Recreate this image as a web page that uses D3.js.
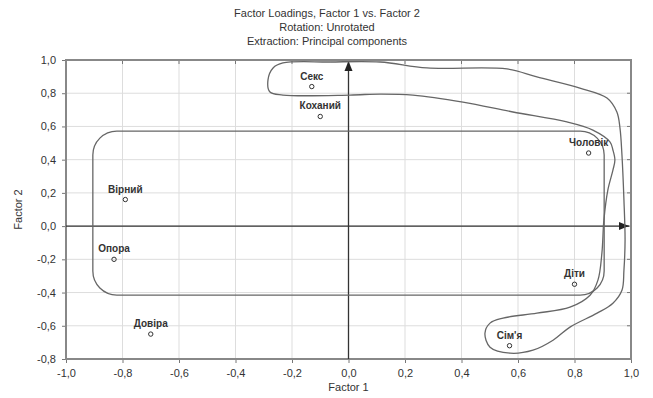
<!DOCTYPE html>
<html>
<head>
<meta charset="UTF-8">
<script src="https://d3js.org/d3.v7.min.js"></script>
<style>
  body { margin: 0; background: #fff; }
  svg { font-family: "Liberation Sans", Arial, sans-serif; }
  .tick text { fill: #333; font-size: 11px; }
  .grid line { stroke: #ddd; stroke-width: 1; }
  .lbl { font-size: 10px; fill: #333; text-anchor: middle; font-weight: bold; }
</style>
</head>
<body>
<svg id="chart" width="653" height="398"></svg>
<script>
// Дані: навантаження факторів
const names = ["Секс", "Коханий", "Чоловік", "Вірний", "Опора", "Діти", "Довіра", "Сім'я"];
const factor1 = [-0.13, -0.10, 0.85, -0.79, -0.83, 0.80, -0.70, 0.57];
const factor2 = [0.84, 0.66, 0.44, 0.16, -0.20, -0.35, -0.65, -0.72];
const xTicks = [-1.0, -0.8, -0.6, -0.4, -0.2, 0.0, 0.2, 0.4, 0.6, 0.8, 1.0];
const yTicks = [-0.8, -0.6, -0.4, -0.2, 0.0, 0.2, 0.4, 0.6, 0.8, 1.0];

// Рамка навколо групи (в одиницях факторів)
const boxX = [-0.905, 0.905];
const boxY = [-0.415, 0.572];

// Контур навколо другої групи
const blobX = [-0.232, -0.065, 0.112, 0.278, 0.561, 0.667, 0.819, 0.915, 0.950, 0.961, 0.968, 0.975, 0.979, 0.975, 0.968, 0.936, 0.880, 0.784, 0.724, 0.653, 0.572, 0.501, 0.483, 0.501, 0.547, 0.667, 0.784, 0.855, 0.883, 0.897, 0.904, 0.918, 0.936, 0.943, 0.936, 0.926, 0.865, 0.773, 0.582, 0.405, 0.228, 0.112, 0.005, -0.232, -0.278, -0.285, -0.267];
const blobY = [0.982, 0.988, 0.988, 0.952, 0.946, 0.898, 0.831, 0.771, 0.687, 0.590, 0.428, 0.157, -0.084, -0.265, -0.386, -0.464, -0.524, -0.608, -0.687, -0.747, -0.765, -0.729, -0.645, -0.584, -0.554, -0.524, -0.488, -0.416, -0.325, -0.163, 0.036, 0.217, 0.337, 0.398, 0.458, 0.506, 0.578, 0.627, 0.687, 0.747, 0.789, 0.795, 0.789, 0.789, 0.807, 0.880, 0.952];

const fmt = d => d3.format(".1f")(d).replace(".", ",").replace("−", "-");

const svg = d3.select("#chart");
const m = { left: 66, right: 22, top: 60, bottom: 39 };
const W = 653, H = 398;

const x = d3.scaleLinear().domain([-1, 1]).range([m.left, W - m.right]);
const y = d3.scaleLinear().domain([-0.8, 1]).range([H - m.bottom, m.top]);

// Заголовки
const titles = ["Factor Loadings, Factor 1 vs. Factor 2", "Rotation: Unrotated", "Extraction: Principal components"];
svg.selectAll(".title").data(titles).enter().append("text")
  .attr("x", 327).attr("y", (d, i) => 17 + i * 14)
  .attr("text-anchor", "middle").attr("font-size", 11).attr("fill", "#333")
  .text(d => d);

// Сітка
svg.append("g").attr("class", "grid").selectAll("line").data(xTicks).enter().append("line")
  .attr("x1", d => x(d)).attr("x2", d => x(d)).attr("y1", y(1)).attr("y2", y(-0.8));
svg.append("g").attr("class", "grid").selectAll("line").data(yTicks).enter().append("line")
  .attr("y1", d => y(d)).attr("y2", d => y(d)).attr("x1", x(-1)).attr("x2", x(1));

// Осі
svg.append("g").attr("transform", `translate(0,${y(-0.8)})`)
  .call(d3.axisBottom(x).tickValues(xTicks).tickFormat(fmt).tickSize(4).tickPadding(6))
  .call(g => g.select(".domain").remove())
  .call(g => g.selectAll(".tick line").attr("stroke", "#777"));
svg.append("g").attr("transform", `translate(${x(-1)},0)`)
  .call(d3.axisLeft(y).tickValues(yTicks).tickFormat(fmt).tickSize(4).tickPadding(6))
  .call(g => g.select(".domain").remove())
  .call(g => g.selectAll(".tick line").attr("stroke", "#777"));
// Засічки на верхній і правій сторонах
svg.append("g").selectAll("line").data(xTicks).enter().append("line")
  .attr("x1", d => x(d)).attr("x2", d => x(d)).attr("y1", y(1)).attr("y2", y(1) + 4).attr("stroke", "#777");
svg.append("g").selectAll("line").data(yTicks).enter().append("line")
  .attr("y1", d => y(d)).attr("y2", d => y(d)).attr("x1", x(1)).attr("x2", x(1) - 4).attr("stroke", "#777");

// Рамка графіка
svg.append("rect").attr("x", x(-1)).attr("y", y(1))
  .attr("width", x(1) - x(-1)).attr("height", y(-0.8) - y(1))
  .attr("fill", "none").attr("stroke", "#888").attr("stroke-width", 2);

// Стрілки осей
svg.append("defs").append("marker").attr("id", "arr")
  .attr("viewBox", "0 0 10 10").attr("refX", 10).attr("refY", 5)
  .attr("markerWidth", 8).attr("markerHeight", 8).attr("orient", "auto")
  .append("path").attr("d", "M0,1 L10,5 L0,9 Z").attr("fill", "#222");
svg.append("line").attr("x1", x(-1)).attr("x2", x(1) - 2).attr("y1", y(0)).attr("y2", y(0))
  .attr("stroke", "#333").attr("stroke-width", 1.3).attr("marker-end", "url(#arr)");
svg.append("line").attr("x1", x(0)).attr("x2", x(0)).attr("y1", y(-0.8)).attr("y2", y(1) + 1)
  .attr("stroke", "#333").attr("stroke-width", 1.3).attr("marker-end", "url(#arr)");

// Підписи осей
svg.append("text").attr("x", x(0)).attr("y", 391).attr("text-anchor", "middle")
  .attr("font-size", 11).attr("fill", "#333").text("Factor 1");
svg.append("text").attr("transform", `translate(22,${y(0.1)}) rotate(-90)`).attr("text-anchor", "middle")
  .attr("font-size", 11).attr("fill", "#333").text("Factor 2");

// Заокруглена рамка
svg.append("rect").attr("x", x(boxX[0])).attr("y", y(boxY[1]))
  .attr("width", x(boxX[1]) - x(boxX[0])).attr("height", y(boxY[0]) - y(boxY[1]))
  .attr("rx", 24).attr("ry", 24)
  .attr("fill", "none").attr("stroke", "#666").attr("stroke-width", 1.3);

// Контур
const blob = d3.line().x(d => x(d[0])).y(d => y(d[1])).curve(d3.curveCatmullRomClosed.alpha(0.5));
svg.append("path").datum(blobX.map((v, i) => [v, blobY[i]]))
  .attr("d", blob).attr("fill", "none").attr("stroke", "#666").attr("stroke-width", 1.3);

// Точки
const pts = names.map((n, i) => ({ n, a: factor1[i], b: factor2[i] }));
svg.selectAll(".pt").data(pts).enter().append("circle")
  .attr("cx", d => x(d.a)).attr("cy", d => y(d.b)).attr("r", 2.2)
  .attr("fill", "none").attr("stroke", "#333").attr("stroke-width", 1);
svg.selectAll(".lbl").data(pts).enter().append("text").attr("class", "lbl")
  .attr("x", d => x(d.a)).attr("y", d => y(d.b) - 7).text(d => d.n);
</script>
</body>
</html>
